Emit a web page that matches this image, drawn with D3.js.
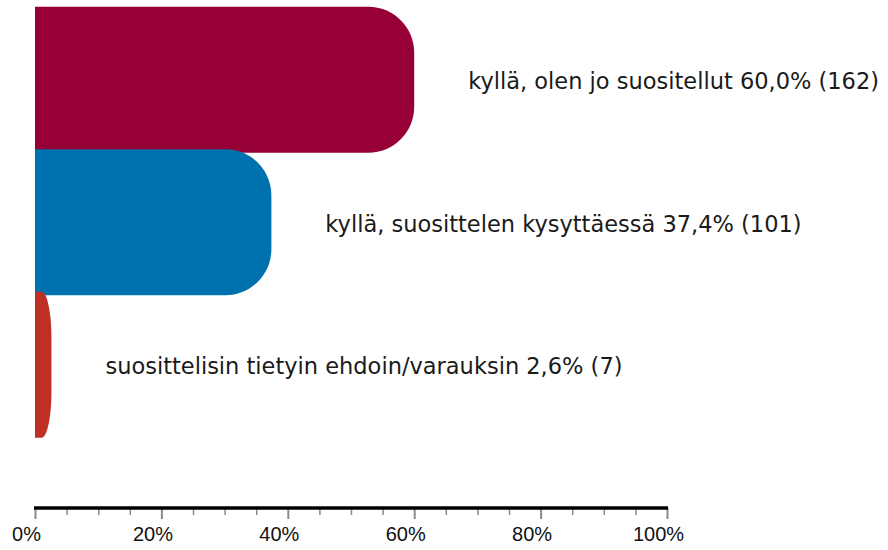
<!DOCTYPE html>
<html>
<head>
<meta charset="utf-8">
<script src="https://cdn.jsdelivr.net/npm/d3@7/dist/d3.min.js"></script>
<style>
  html, body { margin: 0; padding: 0; background: #fff; }
  svg { display: block; }
</style>
</head>
<body>
<svg id="chart" width="888" height="550"></svg>
<script>
// ---- data ----
const categories = [
  "kyllä, olen jo suositellut",
  "kyllä, suosittelen kysyttäessä",
  "suosittelisin tietyin ehdoin/varauksin"
];
const percents = [60.0, 37.4, 2.6];
const percentLabels = ["60,0%", "37,4%", "2,6%"];
const counts = [162, 101, 7];
const colors = ["#970037", "#0071AF", "#BE2F26"];
const majorTicks = [0, 20, 40, 60, 80, 100];
const minorTicks = [5, 10, 15, 25, 30, 35, 45, 50, 55, 65, 70, 75, 85, 90, 95];

// ---- layout ----
const svg = d3.select("#chart");
const x = d3.scaleLinear().domain([0, 100]).range([35, 667]);
const y = d3.scaleBand().domain(categories).range([6.7, 434.2]).paddingInner(0).paddingOuter(0);
const overlap = 3.5;
const axisY = 508;

function barPath(x0, x1, y0, h) {
  const w = x1 - x0;
  const ry = Math.min(46, h / 2);
  const rx = Math.min(46, w * 0.6);
  const p = d3.path();
  p.moveTo(x0, y0);
  p.lineTo(x1 - rx, y0);
  p.bezierCurveTo(x1 - rx + rx * 0.5523, y0, x1, y0 + ry - ry * 0.5523, x1, y0 + ry);
  p.lineTo(x1, y0 + h - ry);
  p.bezierCurveTo(x1, y0 + h - ry + ry * 0.5523, x1 - rx + rx * 0.5523, y0 + h, x1 - rx, y0 + h);
  p.lineTo(x0, y0 + h);
  p.closePath();
  return p.toString();
}

const rows = categories.map((c, i) => ({ c, v: percents[i], lab: percentLabels[i], n: counts[i], col: colors[i] }));

svg.append("g").selectAll("path").data(rows).join("path")
  .attr("d", d => barPath(x(0), x(d.v), y(d.c), y.bandwidth() + overlap))
  .attr("fill", d => d.col);

svg.append("g").selectAll("text").data(rows).join("text")
  .attr("x", d => x(d.v) + 54)
  .attr("y", d => y(d.c) + (y.bandwidth() + overlap) / 2 + 9.5)
  .attr("font-family", "'DejaVu Sans', Verdana, sans-serif")
  .attr("font-size", 22.5)
  .attr("fill", "#1a1a1a")
  .text(d => `${d.c} ${d.lab} (${d.n})`);

// ---- axis ----
const minorAxis = d3.axisBottom(x).tickValues(minorTicks).tickSize(7).tickFormat("");
const gMinor = svg.append("g").attr("transform", `translate(0,${axisY})`).call(minorAxis);
gMinor.select(".domain").remove();
gMinor.selectAll(".tick line").attr("stroke", "#8a8a8a").attr("stroke-width", 1.5);

const majorAxis = d3.axisBottom(x).tickValues(majorTicks).tickSize(11).tickFormat(d => d + "%");
const gMajor = svg.append("g").attr("transform", `translate(0,${axisY})`).call(majorAxis);
gMajor.select(".domain").remove();
gMajor.selectAll(".tick line").attr("stroke", "#8a8a8a").attr("stroke-width", 2);
gMajor.selectAll(".tick text")
  .attr("y", 33).attr("dy", 0).attr("dx", -9)
  .attr("fill", "#111")
  .attr("font-family", "'Liberation Sans', Arial, sans-serif")
  .attr("font-size", 20);

svg.append("line")
  .attr("x1", x(0) - 1).attr("x2", x(100) + 1)
  .attr("y1", axisY).attr("y2", axisY)
  .attr("stroke", "#000").attr("stroke-width", 3.5);
</script>
</body>
</html>
